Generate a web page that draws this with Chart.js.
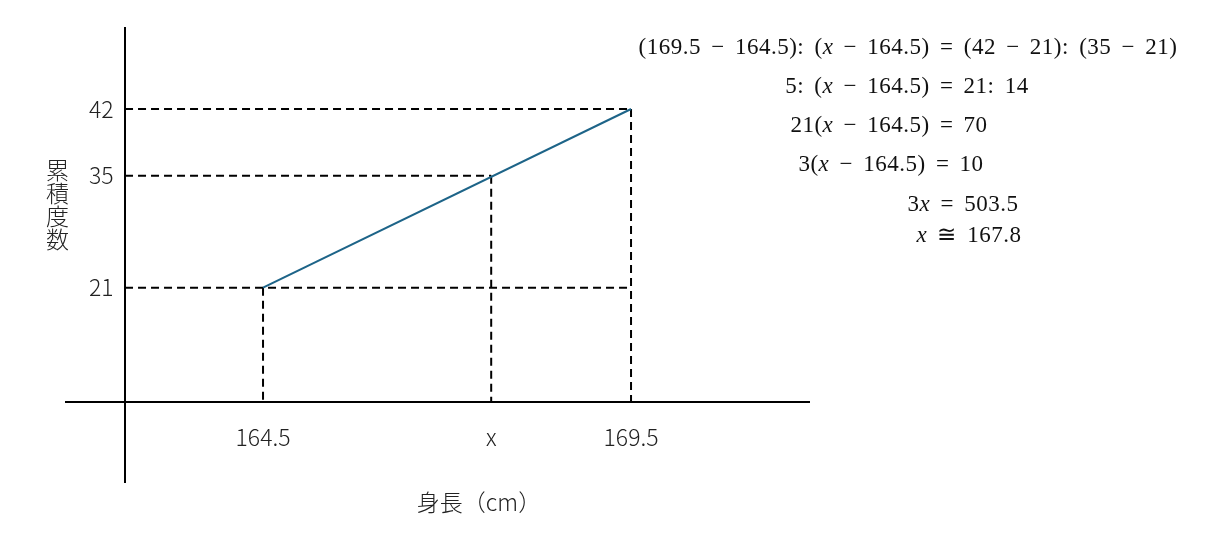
<!DOCTYPE html>
<html>
<head>
<meta charset="utf-8">
<script src="https://cdn.jsdelivr.net/npm/chart.js@4/dist/chart.umd.min.js"></script>
<style>
  body { margin: 0; background: #fff; }
  #wrap { position: relative; width: 1207px; height: 557px; }
  .title { position: absolute; font-family: 'Noto Sans CJK JP', 'Noto Sans', sans-serif; font-weight: 300; color: #222; line-height: 1; white-space: nowrap; }
  #ytitle { writing-mode: vertical-rl; font-size: 23px; left: 57px; top: 205px; transform: translate(-50%, -50%); }
  #xtitle { font-size: 23px; left: 479px; top: 501px; transform: translate(-50%, -50%); }
  .eq { position: absolute; font-family: 'Liberation Serif', 'DejaVu Serif', serif; font-size: 23px; line-height: 23px; letter-spacing: 0.5px; word-spacing: 4px; color: #111; white-space: nowrap; transform: translateX(-50%); }
</style>
</head>
<body>
<div id="wrap">
  <canvas id="myChart" width="1207" height="557"></canvas>
  <div class="title" id="ytitle">累積度数</div>
  <div class="title" id="xtitle">身長（cm）</div>
</div>
<script>
// values
var heights = [164.5, 167.6, 169.5];      // 身長 at the marks
var cumFreq = [21, 34.16, 42];             // 累積度数 at the marks
var xTickLabels = ['164.5', 'x', '169.5'];
var yTickLabels = ['21', '35', '42'];
var hGuideEnd = [169.5, 167.6, 169.5];     // where each horizontal dashed guide stops

var equations = [
  '(169.5 − 164.5): (x − 164.5) = (42 − 21): (35 − 21)',
  '5: (x − 164.5) = 21: 14',
  '21(x − 164.5) = 70',
  '3(x − 164.5) = 10',
  '3x = 503.5',
  'x ≅ 167.8'
];
// centre x and baseline y of each equation line
var eqPos = [[908, 54], [907, 93], [889, 132], [891, 171], [963, 211], [969, 242]];

var axisX = 162.625;   // where the vertical axis sits on the x scale
var axisY = 7.57;      // where the horizontal axis sits on the y scale

var tickFont = { family: "'Noto Sans CJK JP', 'Noto Sans', sans-serif", size: 23, weight: 300 };

var datasets = [{
  data: [{ x: heights[0], y: cumFreq[0] }, { x: heights[2], y: cumFreq[2] }],
  borderColor: '#1d6488',
  borderWidth: 2,
  pointRadius: 0,
  fill: false
}];

for (var i = 0; i < heights.length; i++) {
  datasets.push({
    data: [{ x: axisX, y: cumFreq[i] }, { x: hGuideEnd[i], y: cumFreq[i] }],
    borderColor: '#000', borderWidth: 2, borderDash: [8, 5], pointRadius: 0, fill: false
  });
  datasets.push({
    data: [{ x: heights[i], y: cumFreq[i] }, { x: heights[i], y: axisY }],
    borderColor: '#000', borderWidth: 2, borderDash: [8, 5], pointRadius: 0, fill: false
  });
}

new Chart('myChart', {
  type: 'line',
  data: { datasets: datasets },
  options: {
    responsive: false,
    animation: false,
    devicePixelRatio: 1,
    layout: { padding: { left: 66, right: 398, top: 28, bottom: 75 } },
    plugins: { legend: { display: false }, tooltip: { enabled: false } },
    scales: {
      x: {
        type: 'linear',
        min: 161.823,
        max: 171.918,
        position: { y: axisY },
        grid: { display: false, drawTicks: false },
        border: { display: true, color: '#000', width: 2 },
        afterBuildTicks: function (scale) {
          scale.ticks = heights.map(function (v) { return { value: v }; });
        },
        ticks: {
          autoSkip: false,
          maxRotation: 0,
          padding: 21,
          color: '#222',
          font: tickFont,
          callback: function (value, index) { return xTickLabels[index]; }
        }
      },
      y: {
        type: 'linear',
        min: -1.83,
        max: 51.52,
        position: { x: axisX },
        grid: { display: false, drawTicks: false },
        border: { display: true, color: '#000', width: 2 },
        afterBuildTicks: function (scale) {
          scale.ticks = cumFreq.map(function (v) { return { value: v }; });
        },
        ticks: {
          autoSkip: false,
          color: '#222',
          font: tickFont,
          // axis placed by value ignores padding, so keep a gap with an en space
          callback: function (value, index) { return yTickLabels[index] + '\u2002'; }
        }
      }
    }
  }
});

var wrap = document.getElementById('wrap');
equations.forEach(function (eq, k) {
  var d = document.createElement('div');
  d.className = 'eq';
  d.innerHTML = eq.replace(/x/g, '<i>x</i>');
  d.style.left = eqPos[k][0] + 'px';
  d.style.top = (eqPos[k][1] - 19) + 'px';
  wrap.appendChild(d);
});
</script>
</body>
</html>
